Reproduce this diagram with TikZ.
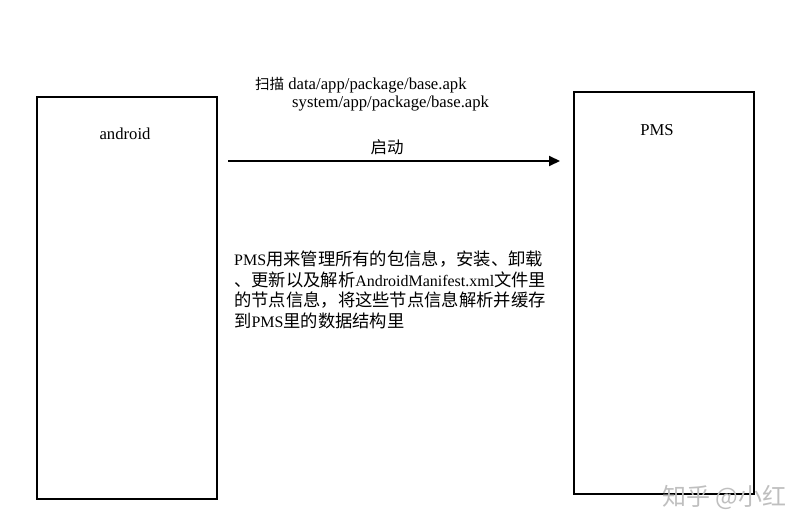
\documentclass[tikz,border=0pt]{standalone}
\usepackage{fontspec}
\setmainfont{Liberation Serif}[Scale=1.15]
\newfontfamily\cjk{Noto Sans CJK SC}
\newcommand{\zhtext}[1]{{\cjk #1}}
\newcommand{\latintext}[1]{{\rmfamily\fontsize{13.9}{18}\selectfont #1}}
\usetikzlibrary{arrows.meta}
\begin{document}
\begin{tikzpicture}[x=1pt,y=-1pt,
  box/.style={draw,line width=2pt},
  lbl/.style={inner sep=0pt,font=\fontsize{14.5}{16}\selectfont},
  para/.style={inner sep=0pt,anchor=west,font=\cjk\fontsize{17.3}{19}\selectfont},
  conn/.style={line width=2pt,-{Triangle[length=11pt,width=10pt]}}]
\useasboundingbox (0,0) rectangle (809,530);
\node[box,minimum width=180pt,minimum height=402pt,anchor=north west] (android) at (36,96) {};
\node[box,minimum width=180pt,minimum height=402pt,anchor=north west] (pms) at (573,91) {};
\node[lbl] (tandroid) at (125,134) {android};
\node[lbl] (tpms) at (657,130) {PMS};
\coordinate (a0) at (228,161);
\coordinate (a1) at (560,161);
\draw[conn] (a0) -- (a1);
\node[lbl,font=\cjk\fontsize{16.5}{18}\selectfont] (start) at (387,147) {启动};
\node[lbl,anchor=west] (scan1) at (255,85) {\zhtext{扫描} data/app/package/base.apk};
\node[lbl,anchor=west] (scan2) at (292,104) {system/app/package/base.apk};
\node[para] (p1) at (234,259) {\latintext{PMS}用来管理所有的包信息，安装、卸载};
\node[para] (p2) at (234,280) {、更新以及解析\latintext{AndroidManifest.xml}文件里};
\node[para] (p3) at (234,300) {的节点信息，将这些节点信息解析并缓存};
\node[para] (p4) at (234,321) {到\latintext{PMS}里的数据结构里};
\node[inner sep=0pt,anchor=west,text=black!25,font=\cjk\fontsize{24}{26}\selectfont] (wm) at (662,497) {知乎 @小红};
\end{tikzpicture}
\end{document}
